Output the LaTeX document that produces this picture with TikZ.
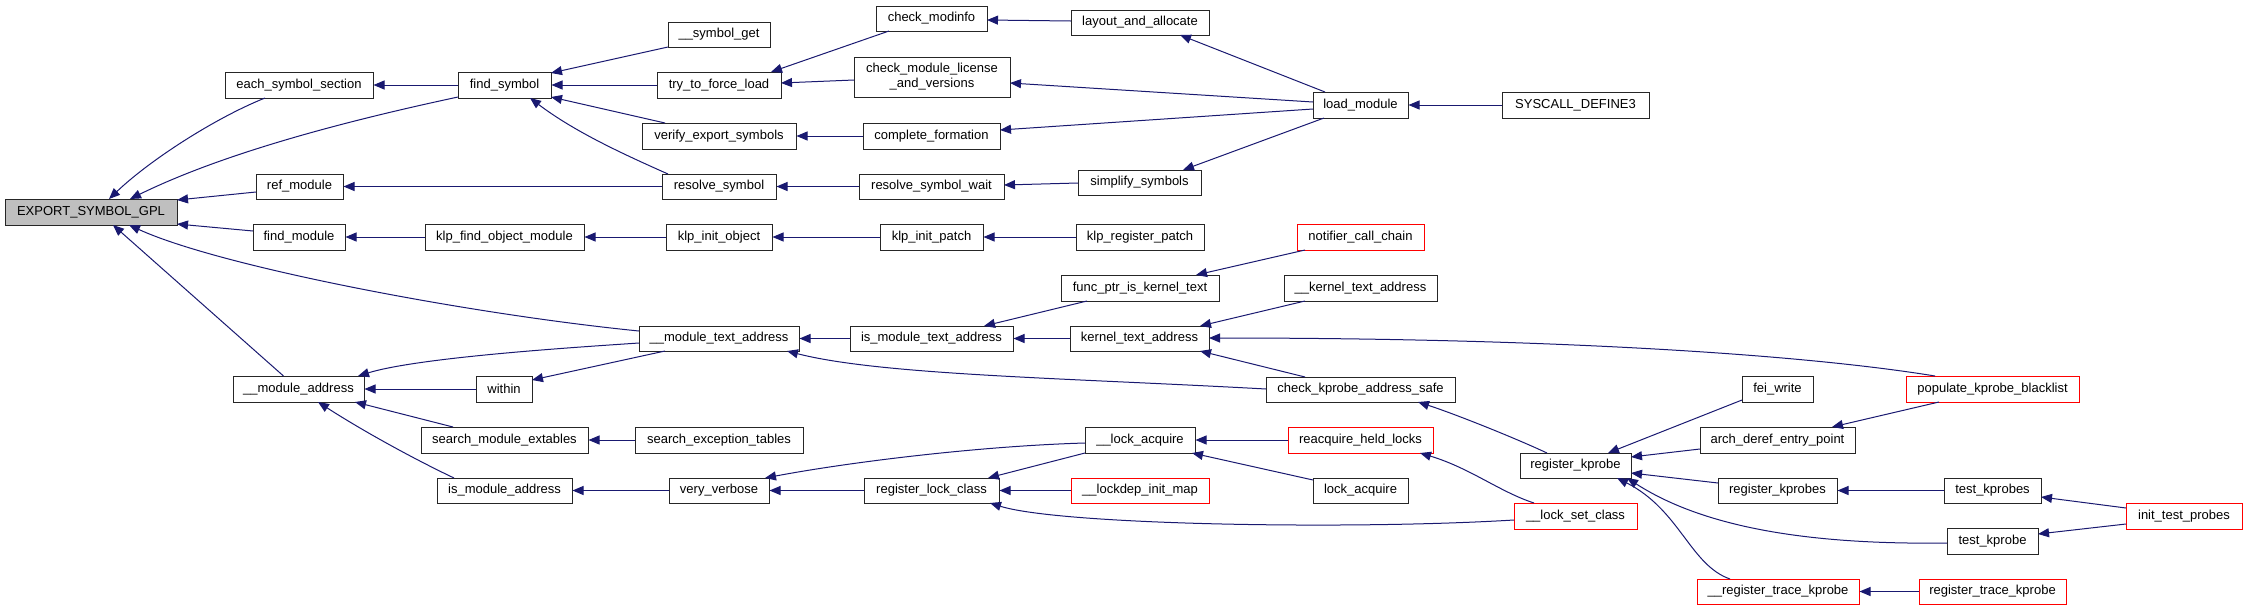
\documentclass[tikz,border=0pt]{standalone}
\usepackage{fontspec}
\setmainfont{Liberation Sans}
\usetikzlibrary{arrows.meta,calc}
\definecolor{edgeblue}{HTML}{191970}
\definecolor{boxgray}{HTML}{BFBFBF}
\tikzset{
 box/.style={draw=black!85, line width=1pt, inner sep=0pt, fill=white, align=center,
   font=\fontsize{13}{15}\selectfont},
 redbox/.style={box, draw=red},
 graybox/.style={box, fill=boxgray},
 edge/.style={draw=edgeblue, line width=1pt, -{Triangle[length=11pt,width=9pt]}},
}
\newcommand\nd[7][]{\node[box,#1,minimum width={#5-#3},minimum height={#6-#4}] (#2) at ({(#3+#5)/2},{(#4+#6)/2}) {#7};}
\begin{document}
\begin{tikzpicture}[x=1pt,y=-1pt]
\path[use as bounding box] (0,0) rectangle (2247,611);
% nodes
\nd[graybox]{esg}{5}{199}{177}{225}{EXPORT\_SYMBOL\_GPL}
\nd{ess}{225}{72}{373}{98}{each\_symbol\_section}
\nd{fs}{458}{72}{551}{98}{find\_symbol}
\nd{refm}{256}{174}{343}{199}{ref\_module}
\nd{fm}{253}{224}{345}{250}{find\_module}
\nd{klpfom}{425}{224}{584}{250}{klp\_find\_object\_module}
\nd{ma}{233}{376}{364}{402}{\_\_module\_address}
\nd{within}{476}{376}{532}{402}{within}
\nd{sme}{421}{427}{588}{453}{search\_module\_extables}
\nd{ima}{437}{478}{572}{503}{is\_module\_address}
\nd{sg}{668}{22}{770}{47}{\_\_symbol\_get}
\nd{tfl}{657}{72}{781}{98}{try\_to\_force\_load}
\nd{ves}{642}{123}{796}{149}{verify\_export\_symbols}
\nd{rs}{662}{174}{776}{199}{resolve\_symbol}
\nd{klpio}{666}{224}{772}{250}{klp\_init\_object}
\nd{mta}{639}{326}{799}{351}{\_\_module\_text\_address}
\nd{set}{635}{427}{803}{453}{search\_exception\_tables}
\nd{vv}{669}{478}{769}{503}{very\_verbose}
\nd{cm}{876}{6}{987}{31}{check\_modinfo}
\nd{cmlv}{854}{57}{1010}{97}{check\_module\_license\\\_and\_versions}
\nd{cf}{863}{123}{1000}{149}{complete\_formation}
\nd{rsw}{859}{174}{1004}{199}{resolve\_symbol\_wait}
\nd{klpip}{880}{224}{983}{250}{klp\_init\_patch}
\nd{imta}{850}{326}{1013}{351}{is\_module\_text\_address}
\nd{rlc}{864}{478}{999}{503}{register\_lock\_class}
\nd{laa}{1071}{10}{1209}{35}{layout\_and\_allocate}
\nd{ss}{1078}{170}{1201}{195}{simplify\_symbols}
\nd{klprp}{1076}{224}{1204}{250}{klp\_register\_patch}
\nd{fpikt}{1061}{275}{1219}{301}{func\_ptr\_is\_kernel\_text}
\nd{kta}{1070}{326}{1209}{351}{kernel\_text\_address}
\nd{la}{1085}{427}{1195}{453}{\_\_lock\_acquire}
\nd[redbox]{ldim}{1071}{478}{1209}{503}{\_\_lockdep\_init\_map}
\nd{lm}{1313}{92}{1408}{118}{load\_module}
\nd[redbox]{ncc}{1297}{224}{1424}{250}{notifier\_call\_chain}
\nd{kta2}{1284}{275}{1437}{301}{\_\_kernel\_text\_address}
\nd{ckas}{1266}{377}{1455}{402}{check\_kprobe\_address\_safe}
\nd[redbox]{rhl}{1288}{427}{1433}{453}{reacquire\_held\_locks}
\nd{lacq}{1313}{478}{1408}{503}{lock\_acquire}
\nd{sd3}{1502}{92}{1649}{118}{SYSCALL\_DEFINE3}
\nd{rk}{1520}{453}{1631}{478}{register\_kprobe}
\nd[redbox]{lsc}{1514}{503}{1637}{529}{\_\_lock\_set\_class}
\nd{fw}{1742}{376}{1813}{402}{fei\_write}
\nd{adep}{1700}{427}{1855}{453}{arch\_deref\_entry\_point}
\nd{rks}{1718}{478}{1837}{503}{register\_kprobes}
\nd[redbox]{rtkk}{1697}{579}{1859}{604}{\_\_register\_trace\_kprobe}
\nd[redbox]{pkb}{1906}{376}{2079}{402}{populate\_kprobe\_blacklist}
\nd{tks}{1944}{478}{2041}{503}{test\_kprobes}
\nd{tk}{1947}{528}{2038}{554}{test\_kprobe}
\nd[redbox]{rtk}{1919}{579}{2066}{604}{register\_trace\_kprobe}
\nd[redbox]{itp}{2126}{503}{2242}{529}{init\_test\_probes}
% edges (caller -> callee)
\draw[edge] ($(ess.center)+(-34,13)$) .. controls (215,118) and (150,160) .. ($(esg.center)+(18,-13)$);
\draw[edge] ($(fs.center)+(-46.5,12)$) .. controls (360,118) and (230,150) .. ($(esg.center)+(39,-13)$);
\draw[edge] ($(refm.center)+(-43.5,5.5)$) -- ($(esg.center)+(86,-12)$);
\draw[edge] ($(fm.center)+(-46,-6)$) -- ($(esg.center)+(86,12)$);
\draw[edge] ($(mta.center)+(-80,-7.5)$) .. controls (469,314) and (221,267) .. ($(esg.center)+(38,13)$);
\draw[edge] ($(ma.center)+(-15,-13)$) -- ($(esg.center)+(22,13)$);
\draw[edge] (fs.west) -- (ess.east);
\draw[edge] ($(sg.center)+(-51,12.5)$) -- ($(fs.center)+(46.5,-12)$);
\draw[edge] (tfl.west) -- (fs.east);
\draw[edge] ($(ves.center)+(-54,-13)$) -- ($(fs.center)+(46.5,12)$);
\draw[edge] ($(rs.center)+(-51,-12.5)$) .. controls (623,154) and (575,132) .. ($(fs.center)+(25.5,13)$);
\draw[edge] (rs.west) -- (refm.east);
\draw[edge] (klpfom.west) -- (fm.east);
\draw[edge] (klpio.west) -- (klpfom.east);
\draw[edge] (klpip.west) -- (klpio.east);
\draw[edge] (klprp.west) -- (klpip.east);
\draw[edge] ($(cm.center)+(-42.5,12.5)$) -- ($(tfl.center)+(52,-13)$);
\draw[edge] ($(cmlv.center)+(-78,3)$) -- ($(tfl.center)+(62,-2)$);
\draw[edge] ($(laa.center)+(-69,-1.5)$) -- ($(cm.center)+(55.5,1.5)$);
\draw[edge] ($(lm.center)+(-35.5,-13)$) -- ($(laa.center)+(40,12.5)$);
\draw[edge] ($(lm.center)+(-47.5,-3)$) -- ($(cmlv.center)+(78,6)$);
\draw[edge] ($(lm.center)+(-47.5,4)$) -- ($(cf.center)+(68.5,-6)$);
\draw[edge] ($(lm.center)+(-36.5,13)$) -- ($(ss.center)+(43.5,-12.5)$);
\draw[edge] (sd3.west) -- (lm.east);
\draw[edge] (cf.west) -- (ves.east);
\draw[edge] (rsw.west) -- (rs.east);
\draw[edge] ($(ss.center)+(-61.5,0.5)$) -- ($(rsw.center)+(72.5,-1.5)$);
\draw[edge] (within.west) -- (ma.east);
\draw[edge] ($(mta.center)+(-80,4.5)$) .. controls (580,347) and (420,357) .. ($(ma.center)+(59.5,-13)$);
\draw[edge] ($(sme.center)+(-51.5,-13)$) -- ($(ma.center)+(56.5,13)$);
\draw[edge] ($(ima.center)+(-50.5,-12.5)$) .. controls (414,459) and (363,431) .. ($(ma.center)+(19.5,13)$);
\draw[edge] ($(mta.center)+(-54,12.5)$) -- ($(within.center)+(28,-9)$);
\draw[edge] (imta.west) -- (mta.east);
\draw[edge] ($(ckas.center)+(-94.5,-0.5)$) .. controls (1066,378) and (880,375) .. ($(mta.center)+(68,12.5)$);
\draw[edge] ($(fpikt.center)+(-53,13)$) -- ($(imta.center)+(52.5,-12.5)$);
\draw[edge] (kta.west) -- (imta.east);
\draw[edge] ($(ncc.center)+(-55.5,13)$) -- ($(fpikt.center)+(56,-13)$);
\draw[edge] ($(kta2.center)+(-55.5,13)$) -- ($(kta.center)+(60.5,-12.5)$);
\draw[edge] ($(pkb.center)+(-57.5,-13)$) .. controls (1800,354) and (1550,338) .. ($(kta.center)+(69.5,-0.5)$);
\draw[edge] ($(ckas.center)+(-55.5,-12.5)$) -- ($(kta.center)+(60.5,12.5)$);
\draw[edge] ($(rk.center)+(-28.5,-12.5)$) .. controls (1515,438) and (1455,414) .. ($(ckas.center)+(57.5,12.5)$);
\draw[edge] (set.west) -- (sme.east);
\draw[edge] (vv.west) -- (ima.east);
\draw[edge] ($(la.center)+(-55,3)$) .. controls (980,446) and (850,462) .. ($(vv.center)+(46,-12.5)$);
\draw[edge] (rlc.west) -- (vv.east);
\draw[edge] ($(la.center)+(-55,13)$) -- ($(rlc.center)+(56.5,-12.5)$);
\draw[edge] (ldim.west) -- (rlc.east);
\draw[edge] ($(lsc.center)+(-61.5,4)$) .. controls (1350,530) and (1060,525) .. ($(rlc.center)+(58.5,12.5)$);
\draw[edge] (rhl.west) -- (la.east);
\draw[edge] ($(lacq.center)+(-47.5,-10.5)$) -- ($(la.center)+(52,13)$);
\draw[edge] ($(lsc.center)+(-41.5,-13)$) .. controls (1500,492) and (1470,468) .. ($(rhl.center)+(59.5,13)$);
\draw[edge] ($(fw.center)+(-35.5,11)$) -- ($(rk.center)+(32.5,-12.5)$);
\draw[edge] ($(adep.center)+(-77.5,9)$) -- ($(rk.center)+(55.5,-8.5)$);
\draw[edge] ($(rks.center)+(-59.5,-7.5)$) -- ($(rk.center)+(55.5,7.5)$);
\draw[edge] ($(tk.center)+(-45.5,2)$) .. controls (1800,545) and (1700,525) .. ($(rk.center)+(51.5,12.5)$);
\draw[edge] ($(rtkk.center)+(-48,-12.5)$) .. controls (1690,565) and (1680,510) .. ($(rk.center)+(41.5,12.5)$);
\draw[edge] ($(pkb.center)+(-53.5,13)$) -- ($(adep.center)+(54.5,-13)$);
\draw[edge] (tks.west) -- (rks.east);
\draw[edge] ($(itp.center)+(-58,-8)$) -- ($(tks.center)+(48.5,6.5)$);
\draw[edge] ($(itp.center)+(-58,8)$) -- ($(tk.center)+(45.5,-7)$);
\draw[edge] (rtk.west) -- (rtkk.east);
\end{tikzpicture}
\end{document}
